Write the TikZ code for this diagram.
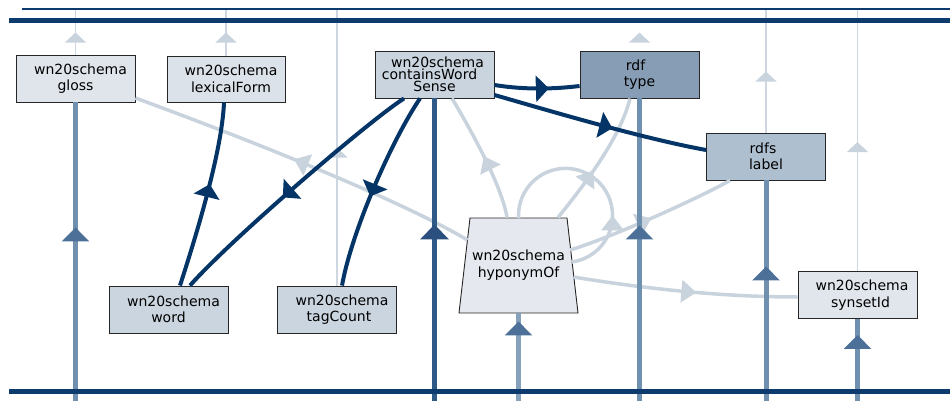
\documentclass[tikz,border=0pt]{standalone}
\usepackage{fontspec}
\setmainfont{DejaVu Sans}
\usetikzlibrary{arrows.meta,decorations.markings,calc}

\definecolor{navy}{HTML}{0D3B6E}
\definecolor{edgedark}{HTML}{053567}
\definecolor{edgelight}{HTML}{C9D3DE}
\definecolor{railthin}{HTML}{CDD6E1}
\definecolor{railmid}{HTML}{7090B0}
\definecolor{tipmid}{HTML}{4D7098}
\definecolor{raildeep}{HTML}{2F5A88}
\definecolor{tipdeep}{HTML}{2B4F7E}
\definecolor{fgloss}{HTML}{E0E5EC}
\definecolor{flex}{HTML}{DCE2E9}
\definecolor{fcws}{HTML}{C9D4DF}
\definecolor{ftype}{HTML}{869DB5}
\definecolor{flabel}{HTML}{AEBFD0}
\definecolor{fword}{HTML}{CBD5E0}
\definecolor{fhyp}{HTML}{E5E8EE}
\definecolor{fsyn}{HTML}{E1E6ED}

% nudge one centred line sideways by #1 (half of the inserted space)
\newcommand\nudge[2]{\hspace*{#1}#2}

\tikzset{
  box/.style={draw=black!85, line width=0.9pt, minimum width=119pt,
    minimum height=47pt, inner sep=0pt, align=center,
    font=\fontsize{14}{16.5}\selectfont},
  midtip/.style 2 args={postaction={decorate},
    decoration={markings, mark=at position #1 with {\arrow{#2}}}},
  darkedge/.style={draw=edgedark, line width=4pt},
  lightedge/.style={draw=edgelight, line width=3.5pt},
  thinrail/.style={draw=railthin, line width=1.2pt},
  midrail/.style={draw=railmid, line width=5pt},
  deeprail/.style={draw=raildeep, line width=4.5pt},
  darktip/.tip={Triangle[length=13pt, width=26pt]},
  lighttip/.tip={Triangle[length=15pt, width=22pt]},
  railtip/.tip={Triangle[length=14pt, width=27pt, color=tipmid]},
  deeptip/.tip={Triangle[length=15pt, width=28pt, color=tipdeep]},
  thintip/.tip={Triangle[length=10pt, width=21pt, color=edgelight]},
}

\begin{document}
\begin{tikzpicture}[x=1pt, y=-1pt]
\useasboundingbox (0,0) rectangle (950,401);

% frame coordinates
\coordinate (topedge) at (0,9.3);
\coordinate (bottomedge) at (0,401);

% trapezoid outline of hyponymOf (narrow top, wide bottom)
\filldraw[fill=fhyp, draw=black!85, line width=0.9pt]
  (470,218) -- (567,218) -- (578,313) -- (459,313) -- cycle;

% nodes
\node[box, fill=fgloss] (gloss) at (75.5,78.5) {\nudge{10pt}{wn20schema}\\gloss};
\node[box, fill=flex, minimum width=118pt, minimum height=46pt] (lex) at (226,79)
  {\nudge{10pt}{wn20schema}\\\nudge{10pt}{lexicalForm}};
\node[box, fill=fcws, font=\fontsize{14}{12.2}\selectfont] (cws) at (434.5,74.5)
  {\nudge{6pt}{wn20schema}\\\nudge{-10pt}{containsWord}\\Sense};
\node[box, fill=ftype] (type) at (639.5,74.5) {\nudge{-8pt}{rdf}\\type};
\node[box, fill=flabel] (label) at (766,156.5) {\nudge{-6pt}{rdfs}\\label};
\node[box, fill=fword] (word) at (168.5,309.5) {\nudge{10pt}{wn20schema}\\word};
\node[box, fill=fword] (tag) at (337,309.5) {\nudge{10pt}{wn20schema}\\\nudge{4pt}{tagCount}};
\node[box, draw=none, fill=none, minimum height=95pt,
  font=\fontsize{14}{17}\selectfont] (hyp) at (518.5,265.5) {wn20schema\\hyponymOf};
\node[box, fill=fsyn] (syn) at (857.5,295) {\nudge{9pt}{wn20schema}\\\nudge{6pt}{synsetId}};

% thin rails towards the top frame
\draw[thinrail, midtip={22pt}{thintip}] (gloss.north) -- (gloss.north |- topedge);
\draw[thinrail, midtip={23pt}{thintip}] (lex.north) -- (lex.north |- topedge);
\draw[thinrail, midtip={138pt}{thintip}] (tag.north) -- (tag.north |- topedge);
\draw[thinrail, midtip={61pt}{thintip}] (label.north) -- (label.north |- topedge);
\draw[thinrail, midtip={129pt}{thintip}] (syn.north) -- (syn.north |- topedge);
\fill[edgelight] ($(type.north)+(-10.5,-8)$) -- ($(type.north)+(0,-18)$)
  -- ($(type.north)+(10.5,-8)$) -- cycle;

% light connectors of hyponymOf
\draw[lightedge, midtip={0.53}{lighttip}] ($(hyp.center)+(-51,-25.5)$)
  .. controls (400,200) and (250,140) .. ($(gloss.east)+(0,19.5)$);
\draw[lightedge, midtip={0.5}{lighttip}] ($(hyp.north)+(-11.5,0)$)
  .. controls (502,185) and (468,125) .. ($(cws.south)+(17.5,0)$);
\draw[lightedge, midtip={0.42}{lighttip}] ($(hyp.north)+(39.5,0)$)
  .. controls (580,190) and (620,140) .. ($(type.south)+(-9.5,0)$);
\draw[lightedge, midtip={0.31}{lighttip}] ($(hyp.center)+(53,-3.5)$)
  arc[start angle=82.7, end angle=-183.7, radius=47];
\draw[lightedge, midtip={0.5}{lighttip}] ($(hyp.center)+(51.5,-15.5)$)
  .. controls (610,238) and (695,200) .. ($(label.south)+(-36,0)$);
\draw[lightedge, midtip={0.55}{lighttip}] ($(hyp.center)+(55,11.5)$)
  .. controls (640,288) and (720,297) .. ($(syn.west)+(0,2)$);

% rails towards the bottom frame
\draw[midrail, midtip={-125pt}{railtip}] (gloss.south |- bottomedge) -- (gloss.south);
\draw[deeprail, midtip={-126pt}{deeptip}] (cws.south |- bottomedge) -- (cws.south);
\draw[midrail, draw=railmid!85!white, midtip={-8pt}{railtip}] (hyp.south |- bottomedge) -- (hyp.south);
\draw[midrail, midtip={-127pt}{railtip}] (type.south |- bottomedge) -- (type.south);
\draw[midrail, midtip={-86pt}{railtip}] (label.south |- bottomedge) -- (label.south);
\draw[midrail, midtip={-16pt}{railtip}] (syn.south |- bottomedge) -- (syn.south);

% dark connectors
\draw[darkedge, midtip={0.56}{darktip}] ($(word.north)+(11.5,0)$)
  .. controls (198,230) and (222,150) .. ($(lex.south)+(-2,0)$);
\draw[darkedge, midtip={0.55}{darktip}] ($(cws.south)+(-30.5,0)$)
  .. controls (370,120) and (230,240) .. ($(word.north)+(21.5,0)$);
\draw[darkedge, midtip={0.54}{darktip}] ($(cws.south)+(-14.5,0)$)
  .. controls (392,140) and (352,230) .. ($(tag.north)+(5,0)$);
\draw[darkedge, midtip={0.64}{darktip}] ($(cws.east)+(0,10.5)$)
  .. controls (525,90) and (555,89) .. ($(type.west)+(0,11.5)$);
\draw[darkedge, midtip={0.56}{darktip}] ($(cws.east)+(0,20.5)$)
  .. controls (540,108) and (640,138) .. ($(label.west)+(0,-6.5)$);

% frame lines
\draw[navy, line width=2pt] (22,9.3) -- (950,9.3);
\draw[navy, line width=4.3pt] (9,20.5) -- (950,20.5);
\draw[navy, line width=4.5pt] (9,391.7) -- (950,391.7);
\end{tikzpicture}
\end{document}
